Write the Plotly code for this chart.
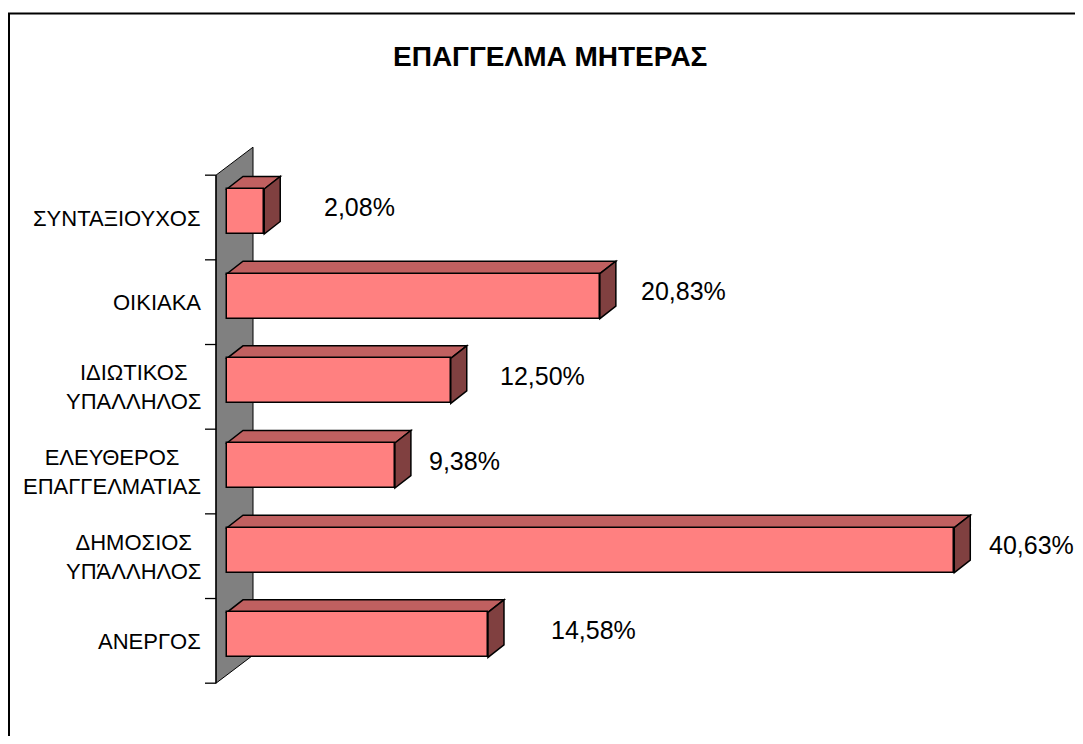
import plotly.graph_objects as go

# ---------------- data ----------------
categories = ["ΣΥΝΤΑΞΙΟΥΧΟΣ", "ΟΙΚΙΑΚΑ", "ΙΔΙΩΤΙΚΟΣ<br>ΥΠΑΛΛΗΛΟΣ",
              "ΕΛΕΥΘΕΡΟΣ<br>ΕΠΑΓΓΕΛΜΑΤΙΑΣ", "ΔΗΜΟΣΙΟΣ<br>ΥΠΆΛΛΗΛΟΣ", "ΑΝΕΡΓΟΣ"]
values = [2.08, 20.83, 12.50, 9.38, 40.63, 14.58]
value_labels = ["2,08%", "20,83%", "12,50%", "9,38%", "40,63%", "14,58%"]
title_text = "ΕΠΑΓΓΕΛΜΑ ΜΗΤΕΡΑΣ"

# ---------------- layout geometry (pixels) ----------------
W, H = 1067, 728          # figure size (page has 8px body margin)
SX = 17.9                 # px per percent unit
SY = 84.67                # px per category row
ORIGIN_X = 219            # figure px of value 0 (front face)
ROW0_Y = 203.5            # figure px of first row centre (front face)

x_range = [-ORIGIN_X / SX, (W - ORIGIN_X) / SX]
y_range = [(H - ROW0_Y) / SY, -ROW0_Y / SY]   # reversed

DX, DY = 16 / SX, -12.5 / SY       # bar depth projection
BW = 45 / SY                       # bar thickness
WALL_FX = -11 / SX                 # wall front x
WALL_DX, WALL_DY = 37 / SX, -28 / SY
WALL_OY = 6 / SY
label_dx_px = [95, 84, 92, 70, 77, 106]   # label centre offset from bar end
LABEL_DY = -5 / SY

FRONT = "#FF8080"
TOP = "#C06060"
SIDE = "#804040"
WALL = "#808080"
FONT = "Liberation Sans, Arial, sans-serif"

pos = list(range(len(categories)))

fig = go.Figure()
fig.add_trace(go.Bar(
    x=values, y=pos, orientation="h", width=BW,
    marker=dict(color=FRONT, line=dict(color="black", width=1.5)),
    hoverinfo="skip", showlegend=False,
))

shapes = []
# frame
shapes.append(dict(type="rect", xref="paper", yref="paper",
                   x0=1 / W, x1=1.05, y0=-0.05, y1=1 - 5.5 / H,
                   line=dict(color="black", width=2), fillcolor="rgba(0,0,0,0)",
                   layer="below"))
# wall
wt = -0.5 + WALL_OY
wb = len(categories) - 0.5 + WALL_OY
wall_path = (f"M {WALL_FX},{wt} L {WALL_FX + WALL_DX},{wt + WALL_DY} "
             f"L {WALL_FX + WALL_DX},{wb + WALL_DY} L {WALL_FX},{wb} Z")
shapes.append(dict(type="path", xref="x", yref="y", path=wall_path,
                   fillcolor=WALL, line=dict(color="black", width=1), layer="below"))
# axis line and ticks
shapes.append(dict(type="line", xref="x", yref="y", x0=WALL_FX, x1=WALL_FX,
                   y0=wt, y1=wb, line=dict(color="black", width=1.3), layer="below"))
for k in range(len(categories) + 1):
    yk = wt + k
    shapes.append(dict(type="line", xref="x", yref="y", x0=WALL_FX - 11 / SX,
                       x1=WALL_FX, y0=yk, y1=yk,
                       line=dict(color="black", width=1.3), layer="below"))

# 3D faces of bars
for i, v in zip(pos, values):
    yt = i - BW / 2
    yb = i + BW / 2
    top_path = (f"M 0,{yt} L {v},{yt} L {v + DX},{yt + DY} L {DX},{yt + DY} Z")
    side_path = (f"M {v},{yt} L {v + DX},{yt + DY} L {v + DX},{yb + DY} L {v},{yb} Z")
    shapes.append(dict(type="path", xref="x", yref="y", path=top_path,
                       fillcolor=TOP, line=dict(color="black", width=1.5), layer="below"))
    shapes.append(dict(type="path", xref="x", yref="y", path=side_path,
                       fillcolor=SIDE, line=dict(color="black", width=1.5), layer="below"))

annotations = []
for i, (v, lab, d) in enumerate(zip(values, value_labels, label_dx_px)):
    annotations.append(dict(x=v + d / SX, y=i + LABEL_DY, xref="x", yref="y",
                            text=lab, showarrow=False, xanchor="center",
                            yanchor="middle",
                            font=dict(family=FONT, size=25, color="black")))
for i, c in enumerate(categories):
    annotations.append(dict(x=-24 / SX, y=i + 6.5 / SY, xref="x", yref="y",
                            text=c, showarrow=False, xanchor="right",
                            yanchor="middle", align="center",
                            font=dict(family=FONT, size=22, color="black")))
annotations.append(dict(x=(550 - 8) / W, y=1 - (57 - 8) / H, xref="paper",
                        yref="paper", text=f"<b>{title_text}</b>", showarrow=False,
                        xanchor="center", yanchor="middle",
                        font=dict(family=FONT, size=28, color="black")))

fig.update_layout(
    width=W, height=H, autosize=False,
    margin=dict(l=0, r=0, t=0, b=0, pad=0),
    paper_bgcolor="white", plot_bgcolor="rgba(0,0,0,0)",
    xaxis=dict(range=x_range, visible=False, fixedrange=True),
    yaxis=dict(range=y_range, visible=False, fixedrange=True),
    shapes=shapes, annotations=annotations, bargap=0,
)

fig.write_html("out.html")
